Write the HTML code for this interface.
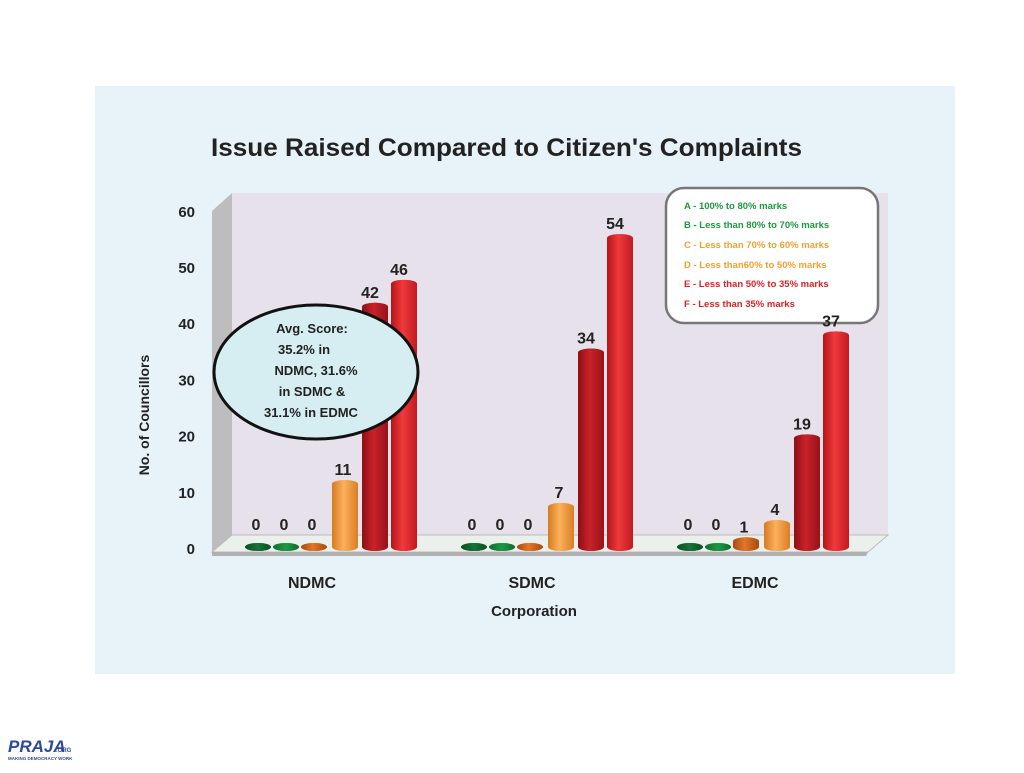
<!DOCTYPE html>
<html><head><meta charset="utf-8"><style>
body{margin:0;width:1024px;height:768px;background:#fff;overflow:hidden;font-family:"Liberation Sans",sans-serif}
</style></head><body>
<svg width="1024" height="768" xmlns="http://www.w3.org/2000/svg" font-family="Liberation Sans, sans-serif">
<defs>
<linearGradient id="gF" x1="0" x2="1"><stop offset="0" stop-color="#b5141a"/><stop offset="0.45" stop-color="#f03a3c"/><stop offset="1" stop-color="#c01a20"/></linearGradient>
<linearGradient id="gE" x1="0" x2="1"><stop offset="0" stop-color="#8e0f16"/><stop offset="0.45" stop-color="#c8232a"/><stop offset="1" stop-color="#9a1118"/></linearGradient>
<linearGradient id="gD" x1="0" x2="1"><stop offset="0" stop-color="#d77a22"/><stop offset="0.45" stop-color="#fbb15a"/><stop offset="1" stop-color="#da7e26"/></linearGradient>
<linearGradient id="gC" x1="0" x2="1"><stop offset="0" stop-color="#a84a10"/><stop offset="0.45" stop-color="#e2772a"/><stop offset="1" stop-color="#a84a10"/></linearGradient>
<linearGradient id="gB" x1="0" x2="1"><stop offset="0" stop-color="#0d6b2c"/><stop offset="0.5" stop-color="#1f9a48"/><stop offset="1" stop-color="#0d6b2c"/></linearGradient>
<linearGradient id="gA" x1="0" x2="1"><stop offset="0" stop-color="#0a4f20"/><stop offset="0.5" stop-color="#16743a"/><stop offset="1" stop-color="#0a4f20"/></linearGradient>
</defs>
<rect x="95" y="86" width="860" height="588" fill="#e8f2f9"/>
<text x="211" y="156" textLength="591" lengthAdjust="spacingAndGlyphs" font-size="25" font-weight="bold" fill="#222">Issue Raised Compared to Citizen's Complaints</text>
<polygon points="212,211 232,193 232,535 212,552" fill="#bdbdbd"/>
<rect x="232" y="193" width="656" height="342" fill="#e7e1eb"/>
<polygon points="212,552 232,535 888,535 868,552" fill="#ecf0ec" stroke="#bbb"/>
<polygon points="212,552 868,552 866,556 212,556" fill="#b0b0b0"/>
<g id="axis"></g>
<g>
<rect x="666" y="188" width="212" height="135" rx="18" fill="#fff" stroke="#777" stroke-width="2.5"/>
<text font-size="9.5" font-weight="bold">
<tspan x="684" y="209" fill="#1a9a3c">A - 100% to 80% marks</tspan>
<tspan x="684" y="228" fill="#1a9a3c">B - Less than 80% to 70% marks</tspan>
<tspan x="684" y="248" fill="#f0a030">C - Less than 70% to 60% marks</tspan>
<tspan x="684" y="268" fill="#f0a030">D - Less than60% to 50% marks</tspan>
<tspan x="684" y="287" fill="#e02020">E - Less than 50% to 35% marks</tspan>
<tspan x="684" y="307" fill="#e02020">F - Less than 35% marks</tspan>
</text></g>
<g id="bars"></g>
<text x="312" y="588" text-anchor="middle" font-size="16" font-weight="bold" fill="#222">NDMC</text>
<text x="532" y="588" text-anchor="middle" font-size="16" font-weight="bold" fill="#222">SDMC</text>
<text x="755" y="588" text-anchor="middle" font-size="16" font-weight="bold" fill="#222">EDMC</text>
<text x="534" y="616" text-anchor="middle" font-size="15" font-weight="bold" fill="#222">Corporation</text>
<text transform="translate(149,415) rotate(-90)" text-anchor="middle" font-size="14" font-weight="bold" fill="#222">No. of Councillors</text>
<g>
<ellipse cx="316" cy="372" rx="102" ry="67" fill="#d6eef2" stroke="#111" stroke-width="3"/>
<text text-anchor="middle" font-size="13" font-weight="bold" fill="#222">
<tspan x="312" y="333">Avg. Score:</tspan><tspan x="304" y="354">35.2% in</tspan><tspan x="316" y="375">NDMC, 31.6%</tspan><tspan x="312" y="396">in SDMC &amp;</tspan><tspan x="311" y="417">31.1% in EDMC</tspan></text>
</g>
<g>
<text x="8" y="752" font-size="17" font-weight="bold" fill="#2b4a9a" font-style="italic">PRAJA</text>
<text x="56" y="752" font-size="6" font-weight="bold" fill="#2b4a9a">.ORG</text>
<text x="8" y="760" font-size="4.5" font-weight="bold" fill="#2b4a9a">MAKING DEMOCRACY WORK</text>
</g>
</svg>
<script>
const categories=["NDMC","SDMC","EDMC"];
const seriesA=[0,0,0];
const seriesB=[0,0,0];
const seriesC=[0,0,1];
const seriesD=[11,7,4];
const seriesE=[42,34,19];
const seriesF=[46,54,37];
const yTicks=[0,10,20,30,40,50,60];
const series=[seriesA,seriesB,seriesC,seriesD,seriesE,seriesF];
const grads=["gA","gB","gC","gD","gE","gF"];
const NS="http://www.w3.org/2000/svg";
function y(v){return 547-v*5.72;}
function ty(v){return 548-v*5.62;}
function gx(i){return 258+i*216;}
const offs=[0,28,56,87,117,146];
const ax=document.getElementById('axis');
yTicks.forEach(t=>{
 const tx=document.createElementNS(NS,'text');
 tx.setAttribute('x',195);tx.setAttribute('y',ty(t)+6);tx.setAttribute('text-anchor','end');
 tx.setAttribute('font-size','15');tx.setAttribute('font-weight','bold');tx.setAttribute('fill','#222');
 tx.textContent=t;
 
 
 ax.appendChild(tx);
});
const g=document.getElementById('bars');
categories.forEach((c,ci)=>{
 series.forEach((s,si)=>{
  const v=s[ci];const cx=gx(ci)+offs[si];const w=26;const top=y(v);const base=547;
  const grp=document.createElementNS(NS,'g');
  
  
  const p=document.createElementNS(NS,'path');
  p.setAttribute('d',`M${cx-w/2},${top} L${cx-w/2},${base} A${w/2},4 0 0 0 ${cx+w/2},${base} L${cx+w/2},${top} A${w/2},4 0 0 0 ${cx-w/2},${top}Z`);
  p.setAttribute('fill','url(#'+grads[si]+')');
  grp.appendChild(p);
  const e=document.createElementNS(NS,'ellipse');
  e.setAttribute('cx',cx);e.setAttribute('cy',top);e.setAttribute('rx',w/2);e.setAttribute('ry',4);
  e.setAttribute('fill','url(#'+grads[si]+')');e.setAttribute('opacity','0.9');
  grp.appendChild(e);
  const t=document.createElementNS(NS,'text');
  t.setAttribute('x',cx-(si>=4?5:2));t.setAttribute('y',(v===0?530:top-9));t.setAttribute('text-anchor','middle');
  t.setAttribute('font-size','16');t.setAttribute('font-weight','bold');t.setAttribute('fill','#222');
  t.textContent=v;
  grp.appendChild(t);
  g.appendChild(grp);
 });
});
</script>
</body></html>
